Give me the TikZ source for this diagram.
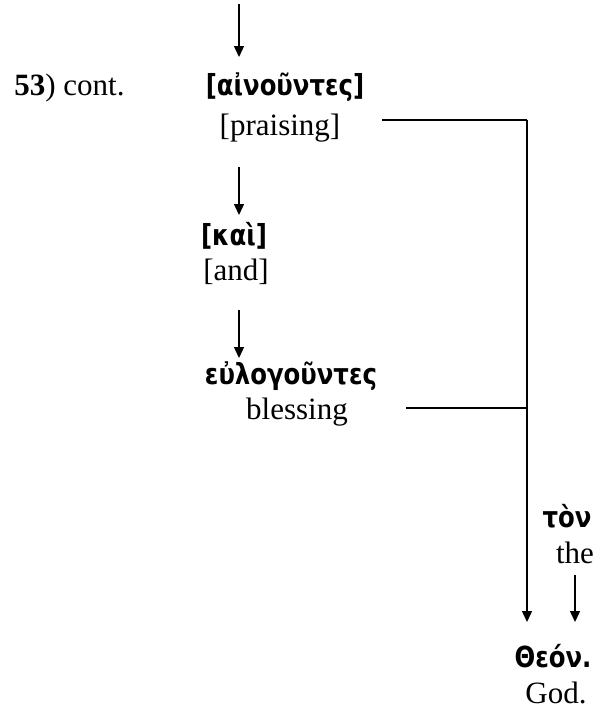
\documentclass[tikz,border=0pt]{standalone}
\usepackage{fontspec}
\setmainfont{Liberation Serif}
\newfontfamily\grfont[FakeStretch=0.84]{DejaVu Sans}
\usetikzlibrary{arrows.meta}
\tikzset{
  en/.style={inner sep=0pt, anchor=base, font=\fontsize{15.5pt}{18pt}\selectfont},
  gr/.style={inner sep=0pt, anchor=base, font=\grfont\bfseries\fontsize{14.5pt}{17pt}\selectfont},
  arr/.style={draw, line width=0.7pt, -{Triangle[length=5.5pt,width=5pt]}},
  ln/.style={draw, line width=0.7pt},
}
\begin{document}
\begin{tikzpicture}[x=0.5pt,y=-0.5pt]
\useasboundingbox (0,0) rectangle (600,712);
% labels
\node[en, anchor=base west] (num) at (14,95) {\textbf{53}) cont.};
\node[gr] (g1) at (285,95) {[αἰνοῦντες]};
\node[en] (e1) at (280,135) {[praising]};
\node[gr] (g2) at (234,245) {[καὶ]};
\node[en] (e2) at (236,280) {[and]};
\node[gr] (g3) at (291,384) {εὐλογοῦντες};
\node[en] (e3) at (297,419) {blessing};
\node[gr] (g4) at (567,527) {τὸν};
\node[en] (e4) at (575,563) {the};
\node[gr] (g5) at (553,667) {Θεόν.};
\node[en] (e5) at (556,703) {God.};
% connector points
\coordinate (top) at (239,4);
\coordinate (t1) at (239,57);
\coordinate (s2) at (239,167);
\coordinate (t2) at (239,215);
\coordinate (s3) at (239,310);
\coordinate (t3) at (239,358);
\coordinate (r1) at (382,120);
\coordinate (j1) at (527,120);
\coordinate (r3) at (406,408);
\coordinate (j3) at (527,408);
\coordinate (t5) at (527,622);
\coordinate (s4) at (575,575);
\coordinate (t4) at (575,622);
% connectors
\draw[arr] (top) -- (t1);
\draw[arr] (s2) -- (t2);
\draw[arr] (s3) -- (t3);
\draw[ln] (r1) -- (j1);
\draw[ln] (r3) -- (j3);
\draw[arr] (j1) -- (t5);
\draw[arr] (s4) -- (t4);
\end{tikzpicture}
\end{document}
